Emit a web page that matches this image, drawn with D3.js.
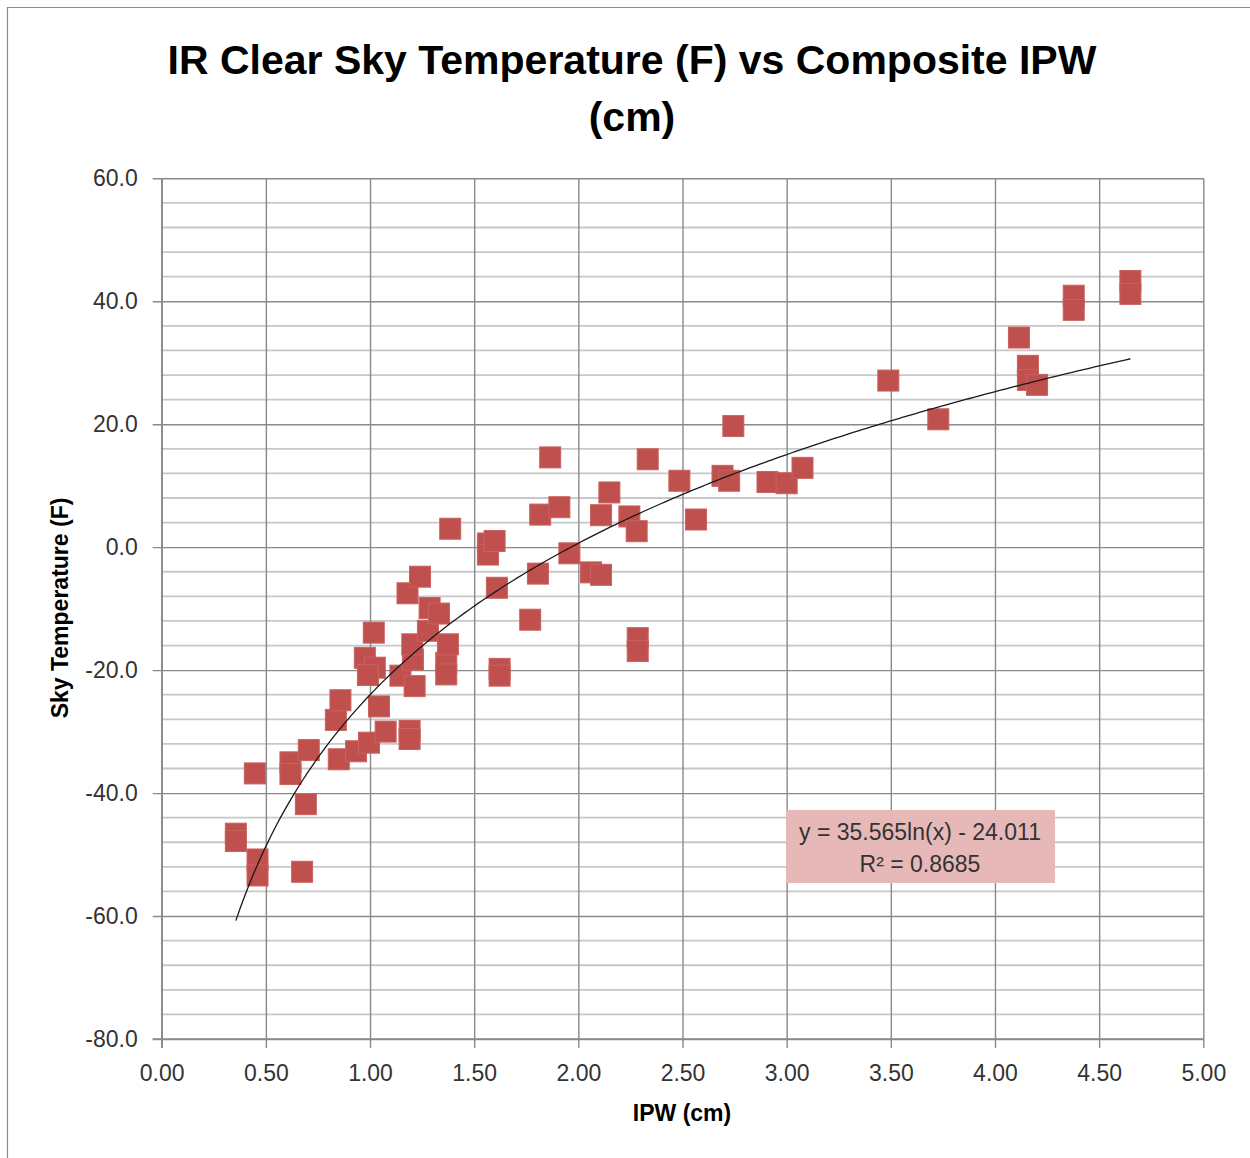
<!DOCTYPE html>
<html>
<head>
<meta charset="utf-8">
<script src="https://cdn.jsdelivr.net/npm/d3@7"></script>
<style>
  html, body { margin: 0; padding: 0; background: #fff; }
  svg { display: block; }
  text { font-family: "Liberation Sans", Arial, sans-serif; }
</style>
</head>
<body>
<svg id="chart" width="1250" height="1158"></svg>
<script>
// ---- Data ----
const ipw = [
  0.356, 0.356, 0.447, 0.46, 0.46, 0.674, 0.692, 0.618, 0.618, 0.706,
  0.836, 0.85, 0.933, 0.995, 1.075, 0.858, 1.043, 1.19, 1.19,
  1.018, 0.975, 1.023, 0.99, 1.146, 1.206, 1.203, 1.214, 1.278, 1.286, 1.331,
  1.18, 1.24, 1.366, 1.366, 1.374, 1.385,
  1.566, 1.566, 1.598, 1.609, 1.622, 1.622, 1.769, 1.806, 1.817, 1.865, 1.909, 1.957,
  2.061, 2.109, 2.109, 2.149, 2.245, 2.28, 2.285, 2.285, 2.333, 2.485, 2.565,
  2.692, 2.724, 2.744, 2.908, 3.0, 3.076,
  3.488, 3.728, 4.115, 4.158, 4.158, 4.202, 4.378, 4.378, 4.65, 4.65
];
const skyTemp = [
  -46.6, -47.8, -36.8, -50.8, -53.4, -52.8, -41.8, -35.0, -36.9, -33.0,
  -28.1, -34.5, -33.2, -31.8, -30.0, -24.9, -25.9, -29.9, -31.2,
  -13.9, -18.0, -19.6, -20.8, -20.9, -18.3, -15.8, -22.6, -13.6, -9.9, -10.8,
  -7.5, -4.8, -18.8, -20.7, -15.8, 3.0,
  0.6, -1.2, 1.0, -6.6, -19.8, -20.9, -11.8, -4.3, 5.3, 14.6, 6.5, -1.0,
  -4.1, -4.5, 5.2, 8.9, 5.0, 2.6, -14.8, -16.9, 14.3, 10.8, 4.5,
  11.6, 10.8, 19.7, 10.6, 10.4, 12.9,
  27.1, 20.8, 34.1, 29.5, 27.2, 26.4, 40.9, 38.6, 43.3, 41.2
];
const xTicks = [0, 0.5, 1, 1.5, 2, 2.5, 3, 3.5, 4, 4.5, 5];
const yTicks = [60, 40, 20, 0, -20, -40, -60, -80];
const yMinorTicks = d3.range(-80, 60.001, 4);
// Logarithmic trendline shown in the chart: y = a ln(x) + b
const trendA = 35.565;
const trendB = -24.011;
const trendRange = [0.356, 4.65];
const titleLines = ["IR Clear Sky Temperature (F) vs Composite IPW", "(cm)"];
const xTitle = "IPW (cm)";
const yTitle = "Sky Temperature (F)";
const eqLines = ["y = 35.565ln(x) - 24.011", "R\u00B2 = 0.8685"];

// ---- Layout ----
const svg = d3.select("#chart");
const plot = { left: 161.7, right: 1203.3, top: 178.3, bottom: 1039 };

const x = d3.scaleLinear().domain([0, 5]).range([plot.left, plot.right]);
const y = d3.scaleLinear().domain([-80, 60]).range([plot.bottom, plot.top]);

const fmtY = d => d.toFixed(1);   // plain hyphen-minus like the reference
const fmtX = d => d.toFixed(2);

// outer frame (only left & top edges visible in the reference)
svg.append("path")
  .attr("d", "M7.5,1158 L7.5,7.5 L1250,7.5")
  .attr("fill", "none").attr("stroke", "#8c8c8c").attr("stroke-width", 1.2);

// minor horizontal gridlines
svg.append("g").selectAll("line")
  .data(yMinorTicks.filter(v => !yTicks.some(t => Math.abs(t - v) < 1e-6)))
  .join("line")
  .attr("x1", plot.left).attr("x2", plot.right)
  .attr("y1", d => y(d)).attr("y2", d => y(d))
  .attr("stroke", "#c8c8c8").attr("stroke-width", 1.8);

// major horizontal gridlines (y axis with ticks)
const yAxis = d3.axisLeft(y).tickValues(yTicks)
  .tickSize(-(plot.right - plot.left)).tickPadding(14)
  .tickFormat(fmtY);
const gy = svg.append("g").attr("transform", `translate(${plot.left},0)`).call(yAxis);
gy.select(".domain").remove();
gy.selectAll(".tick line").attr("stroke", "#8a8a8a").attr("stroke-width", 1.4)
  .attr("x1", -9);
gy.selectAll(".tick text").attr("font-size", 23).attr("fill", "#333")
  .attr("font-family", "Liberation Sans, Arial, sans-serif").attr("x", -24);

// vertical gridlines (x axis with ticks)
const xAxis = d3.axisBottom(x).tickValues(xTicks)
  .tickSize(-(plot.bottom - plot.top)).tickPadding(0)
  .tickFormat(fmtX);
const gx = svg.append("g").attr("transform", `translate(0,${plot.bottom})`).call(xAxis);
gx.select(".domain").remove();
gx.selectAll(".tick line").attr("stroke", "#8a8a8a").attr("stroke-width", 1.4)
  .attr("y1", 9);
gx.selectAll(".tick text").attr("font-size", 23).attr("fill", "#333")
  .attr("font-family", "Liberation Sans, Arial, sans-serif")
  .attr("y", 34).attr("dy", "0.35em");

// axis lines
svg.append("line").attr("x1", plot.left).attr("x2", plot.left)
  .attr("y1", plot.top).attr("y2", plot.bottom + 9)
  .attr("stroke", "#8a8a8a").attr("stroke-width", 1.4);
svg.append("line").attr("x1", plot.left - 9).attr("x2", plot.right)
  .attr("y1", plot.bottom).attr("y2", plot.bottom)
  .attr("stroke", "#8a8a8a").attr("stroke-width", 1.4);

// markers
const pts = ipw.map((v, i) => ({ x: v, y: skyTemp[i] }));
const ms = 21;
svg.append("g").selectAll("rect")
  .data(pts).join("rect")
  .attr("x", d => x(d.x) - ms / 2).attr("y", d => y(d.y) - ms / 2)
  .attr("width", ms).attr("height", ms)
  .attr("fill", "#c0504d").attr("stroke", "#c9625f").attr("stroke-width", 1);

// trendline
const tx = d3.range(0, 201).map(i => trendRange[0] + (trendRange[1] - trendRange[0]) * i / 200);
const line = d3.line().x(d => x(d)).y(d => y(trendA * Math.log(d) + trendB));
svg.append("path").datum(tx).attr("d", line)
  .attr("fill", "none").attr("stroke", "#1a1a1a").attr("stroke-width", 1.3);

// equation box
svg.append("rect").attr("x", 786).attr("y", 810).attr("width", 269).attr("height", 73)
  .attr("fill", "#e6b9b8");
svg.append("g").selectAll("text").data(eqLines).join("text")
  .attr("x", 920).attr("y", (d, i) => 832 + i * 32).attr("dy", "0.35em")
  .attr("text-anchor", "middle").attr("font-size", 23).attr("fill", "#333")
  .text(d => d);

// title
svg.append("g").selectAll("text").data(titleLines).join("text")
  .attr("x", 632).attr("y", (d, i) => 60 + i * 57).attr("dy", "0.35em")
  .attr("text-anchor", "middle").attr("font-size", 41).attr("font-weight", "bold")
  .attr("fill", "#000").text(d => d);

// axis titles
svg.append("text").attr("x", 682).attr("y", 1113).attr("dy", "0.35em")
  .attr("text-anchor", "middle").attr("font-size", 23).attr("font-weight", "bold")
  .text(xTitle);
svg.append("text").attr("transform", "translate(60,608) rotate(-90)").attr("dy", "0.35em")
  .attr("text-anchor", "middle").attr("font-size", 23).attr("font-weight", "bold")
  .text(yTitle);
</script>
</body>
</html>
